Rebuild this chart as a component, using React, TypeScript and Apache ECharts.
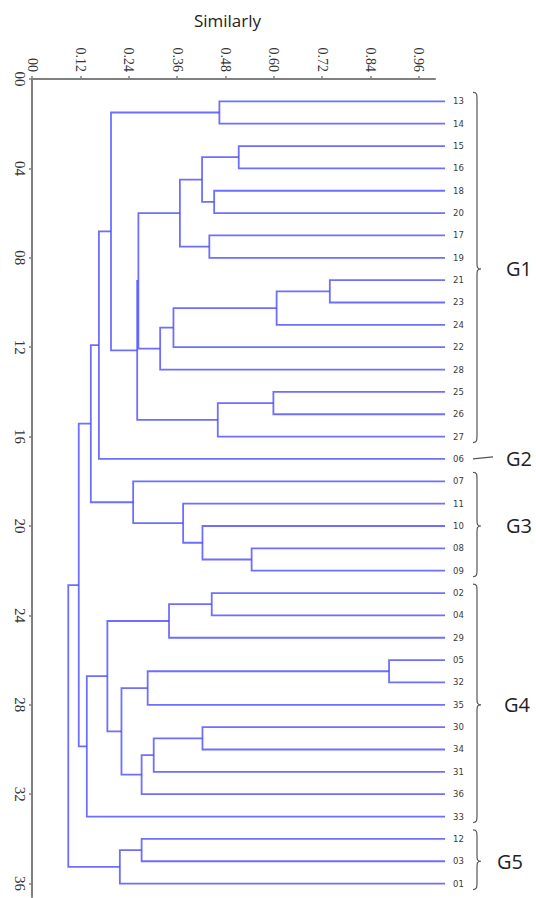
import React, { useEffect, useRef } from 'react';
import * as echarts from 'echarts';

// Leaves, top to bottom (position i+1 on the vertical axis)
const leafLabels = ['13', '14', '15', '16', '18', '20', '17', '19', '21', '23', '24', '22', '28', '25', '26', '27', '06', '07', '11', '10', '08', '09', '02', '04', '29', '05', '32', '35', '30', '34', '31', '36', '33', '12', '03', '01'];
const leafSimilarity = 1.025;

// Linkage: merge k creates node id 36 + k from nodes mergeA[k] and mergeB[k]
const mergeA = [0, 2, 4, 37, 6, 39, 8, 42, 43, 44, 41, 13, 47, 46, 36, 50, 20, 19, 18, 17, 51, 22, 57, 25, 59, 28, 61, 62, 60, 58, 65, 56, 33, 68, 67];
const mergeB = [1, 3, 5, 38, 7, 40, 9, 10, 11, 12, 45, 14, 15, 48, 49, 16, 21, 52, 53, 54, 55, 23, 24, 26, 27, 29, 30, 31, 63, 64, 32, 66, 34, 35, 69];
const mergeSim = [0.465, 0.513, 0.452, 0.422, 0.44, 0.367, 0.739, 0.607, 0.351, 0.318, 0.264, 0.599, 0.461, 0.261, 0.196, 0.166, 0.545, 0.423, 0.375, 0.251, 0.146, 0.446, 0.34, 0.886, 0.287, 0.423, 0.302, 0.272, 0.222, 0.187, 0.136, 0.116, 0.272, 0.218, 0.09];

// Axis ticks
const xTickValues = [0, 0.12, 0.24, 0.36, 0.48, 0.6, 0.72, 0.84, 0.96];
const yTickValues = [0, 4, 8, 12, 16, 20, 24, 28, 32, 36];

// Groups (leaf index ranges)
const groupNames = ['G1', 'G2', 'G3', 'G4', 'G5'];
const groupFirst = [0, 16, 17, 22, 33];
const groupLast = [15, 16, 21, 32, 35];
const groupLabelShift = [0, 0, 0, -2, -9];

export default function App() {
  const ref = useRef<HTMLDivElement>(null);

  useEffect(() => {
    document.body.style.margin = '0';
    const chart = echarts.init(ref.current!, null, { renderer: 'svg' });

    const pos: { h: number; y: number }[] = leafLabels.map((_, i) => ({ h: leafSimilarity, y: i + 1 }));
    const segs: { coords: number[][] }[] = [];
    mergeSim.forEach((s, k) => {
      const a = pos[mergeA[k]];
      const b = pos[mergeB[k]];
      segs.push({ coords: [[a.h, a.y], [s, a.y], [s, b.y], [b.h, b.y]] });
      pos.push({ h: s, y: (a.y + b.y) / 2 });
    });

    const leafPositions = leafLabels.map((_, i) => i + 1);

    chart.setOption({
      animation: false,
      backgroundColor: '#ffffff',
      grid: { left: 32, top: 79, width: 403, height: 818 },
      xAxis: {
        type: 'value',
        position: 'top',
        min: 0,
        max: 1,
        name: 'Similarly',
        nameLocation: 'middle',
        nameGap: 50,
        nameTextStyle: { fontFamily: 'Open Sans', fontSize: 17, color: '#222', padding: [0, 12, 0, 0] },
        axisLine: { show: true, lineStyle: { color: '#808080', width: 2 } },
        axisTick: { show: true, length: 3, customValues: xTickValues, lineStyle: { color: '#808080', width: 1.5 } },
        axisLabel: {
          customValues: xTickValues,
          rotate: -90,
          margin: 7,
          fontFamily: 'Liberation Serif',
          fontSize: 14,
          color: '#333',
          formatter: (v: number) => (v === 0 ? '00' : v.toFixed(2)),
        },
        splitLine: { show: false },
      },
      yAxis: [
        {
          type: 'value',
          inverse: true,
          min: 0,
          max: 36.6,
          position: 'left',
          axisLine: { show: true, lineStyle: { color: '#808080', width: 2 } },
          axisTick: { show: true, length: 3, customValues: yTickValues, lineStyle: { color: '#808080', width: 1.5 } },
          axisLabel: {
            customValues: yTickValues,
            rotate: -90,
            margin: 5,
            fontFamily: 'Liberation Serif',
            fontSize: 15,
            color: '#333',
            formatter: (v: number) => String(Math.round(v)).padStart(2, '0'),
          },
          splitLine: { show: false },
        },
        {
          type: 'value',
          inverse: true,
          min: 0,
          max: 36.6,
          position: 'right',
          axisLine: { show: false },
          axisTick: { show: false },
          axisLabel: {
            customValues: leafPositions,
            margin: 18,
            fontFamily: 'DejaVu Sans',
            fontSize: 8.5,
            color: '#3a3a3a',
            formatter: (v: number) => leafLabels[Math.round(v) - 1] ?? '',
          },
          splitLine: { show: false },
        },
      ],
      series: [
        {
          type: 'lines',
          coordinateSystem: 'cartesian2d',
          polyline: true,
          clip: false,
          silent: true,
          lineStyle: { color: '#4646ff', width: 1.8, opacity: 0.78, curveness: 0 },
          data: segs,
        },
      ],
    });

    // Group braces and labels
    const py = (v: number) => chart.convertToPixel({ yAxisIndex: 0 }, v) as number;
    const xe = 473;
    const xs = 477;
    const xt = 481;
    const elements: any[] = [];
    groupNames.forEach((name, g) => {
      const yTop = py(groupFirst[g] + 1);
      const yBot = py(groupLast[g] + 1);
      const mid = (yTop + yBot) / 2;
      if (groupFirst[g] === groupLast[g]) {
        elements.push({
          type: 'line',
          shape: { x1: xe, y1: mid, x2: xe + 20, y2: mid - 2 },
          style: { stroke: '#555', lineWidth: 1.3 },
          silent: true,
        });
      } else {
        const t = yTop - 9;
        const b = yBot + 6;
        const d = `M ${xe} ${t} C ${xs} ${t} ${xs} ${t + 2} ${xs} ${t + 8} L ${xs} ${mid - 6} C ${xs} ${mid - 2} ${xs} ${mid} ${xt} ${mid} C ${xs} ${mid} ${xs} ${mid + 2} ${xs} ${mid + 6} L ${xs} ${b - 8} C ${xs} ${b - 2} ${xs} ${b} ${xe} ${b}`;
        const shapeName = 'brace' + name;
        echarts.graphic.registerShape(shapeName, echarts.graphic.extendPath(d, {}));
        elements.push({
          type: shapeName,
          x: 0,
          y: 0,
          scaleX: 1,
          scaleY: 1,
          style: { stroke: '#555', fill: 'none', lineWidth: 1.2 },
          silent: true,
        });
      }
      elements.push({
        type: 'text',
        x: 506 + groupLabelShift[g],
        y: mid,
        style: {
          text: name,
          fontFamily: 'Open Sans',
          fontSize: 20,
          fill: '#222',
          textVerticalAlign: 'middle',
          verticalAlign: 'middle',
        },
        silent: true,
      });
    });
    chart.setOption({ graphic: elements });

    return () => chart.dispose();
  }, []);

  return <div ref={ref} style={{ width: 536, height: 898 }} />;
}
